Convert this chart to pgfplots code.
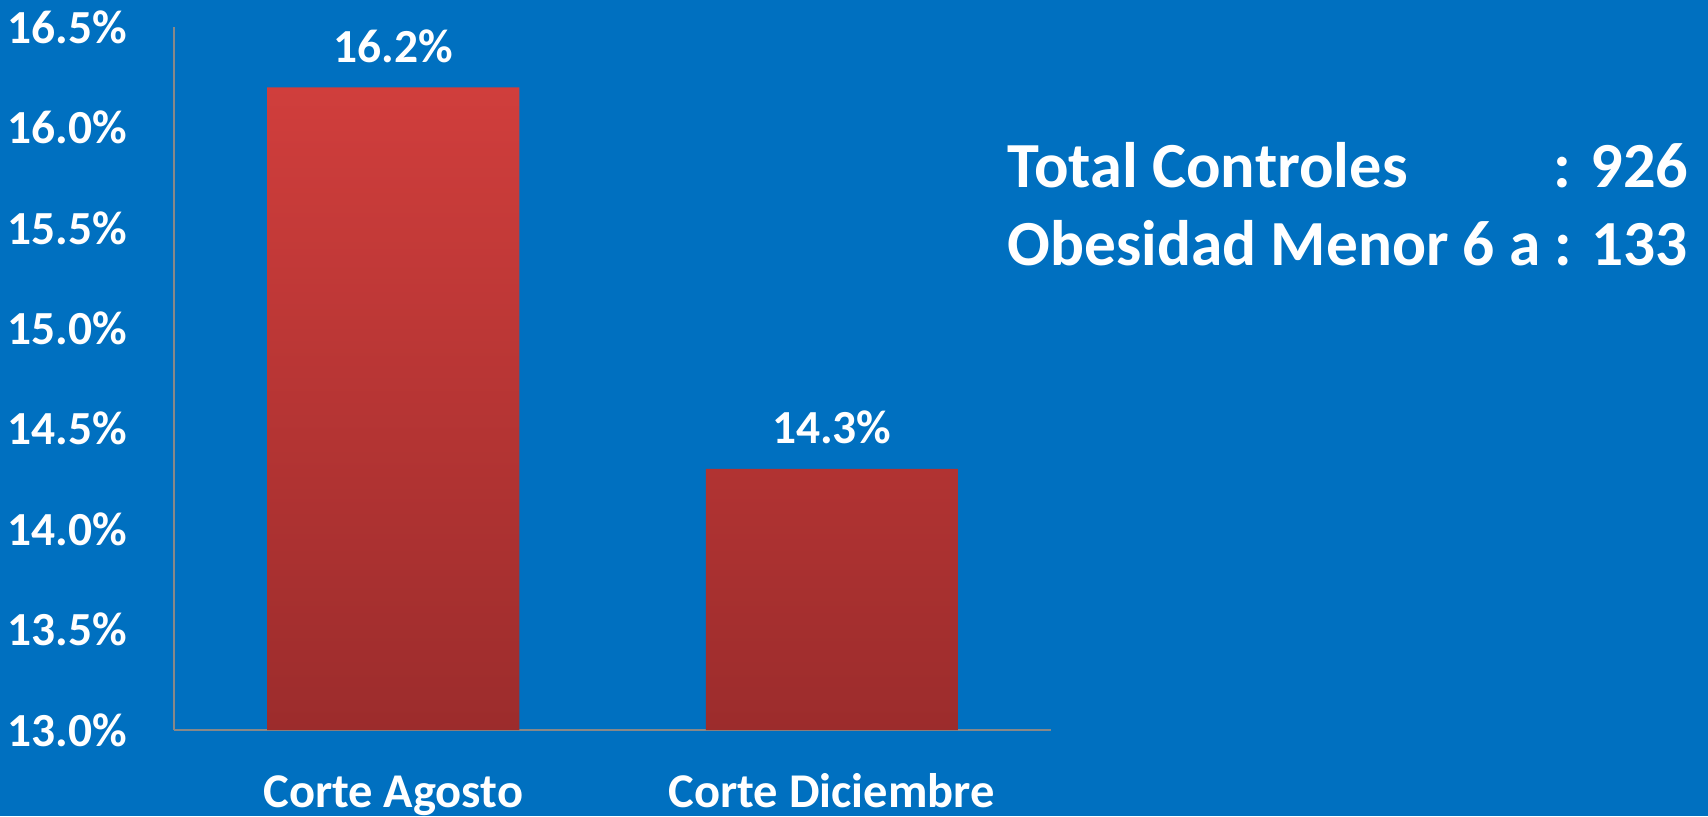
\documentclass[border=0pt]{standalone}
\usepackage{fontspec}
\setmainfont{Carlito}
\usepackage{graphicx}
\usepackage{pgfplots}
\pgfplotsset{compat=1.18}
\definecolor{bg}{RGB}{0,112,192}
\definecolor{bartop}{RGB}{208,62,60}
\definecolor{barbot}{RGB}{156,44,44}
\definecolor{axgray}{RGB}{136,136,136}
\begin{document}
\begin{tikzpicture}
\path[use as bounding box, fill=bg] (0,0) rectangle (17.08cm,8.16cm);
\begin{axis}[
  at={(1.74cm,0.86cm)}, anchor=south west,
  scale only axis, width=8.77cm, height=7.03cm,
  ymin=13, ymax=16.5,
  ytick={13,13.5,14,14.5,15,15.5,16,16.5},
  xmin=-0.5, xmax=1.5,
  xtick={0,1}, xticklabels={Corte Agosto, Corte Diciembre},
  separate axis lines,
  axis x line*=bottom, axis y line*=left,
  axis line style={draw=axgray, line width=0.5pt},
  major tick length=0pt,
  /pgf/number format/assume math mode=true,
  yticklabel={\pgfmathprintnumber[fixed,zerofill,precision=1]{\tick}\%},
  yticklabel style={anchor=east, inner sep=0pt, xshift=-0.46cm, text=white, font=\fontsize{13.5pt}{16pt}\selectfont\bfseries},
  xticklabel style={anchor=base, inner sep=0pt, yshift=-0.77cm, text=white, font=\fontsize{13.8pt}{16pt}\selectfont\bfseries},
  ybar, bar width=2.52cm,
  nodes near coords={\pgfmathprintnumber[fixed,zerofill,precision=1,assume math mode=true]{\pgfplotspointmeta}\%},
  every node near coord/.append style={anchor=base, inner sep=0pt, yshift=0.25cm, text=white, font=\fontsize{13.5pt}{16pt}\selectfont\bfseries},
]
\addplot[draw=none, top color=bartop, bottom color=barbot] coordinates {(0,16.2) (1,14.3)};
\end{axis}
\begin{scope}[every node/.style={text=white, inner sep=0pt, font=\fontsize{18.3pt}{22pt}\selectfont\bfseries}]
\node[anchor=base west] at (10.07cm,6.29cm) {Total Controles};
\node[anchor=base east] at (16.89cm,6.29cm) {: 926};
\node[anchor=base west] at (10.07cm,5.51cm) {\resizebox{6.80cm}{\height}{Obesidad Menor 6 a : 133}};
\end{scope}
\end{tikzpicture}
\end{document}
